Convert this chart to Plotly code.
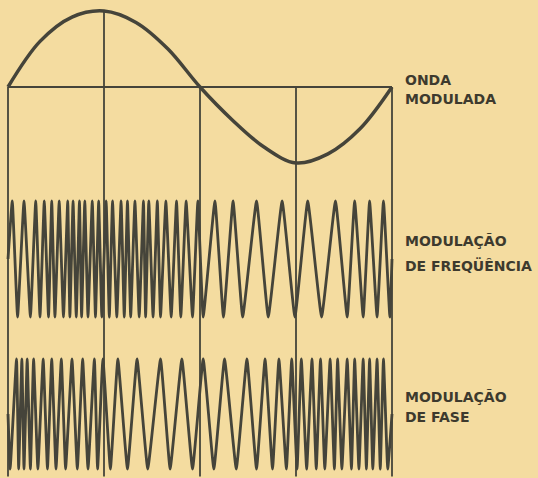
import plotly.graph_objects as go

# phase of the modulating wave, in degrees (one full period 0..360)
SINE_DEG = [0, 30, 60, 90, 120, 150, 180, 210, 240, 270, 300, 330, 360]
SINE_LEVEL = [0, 0.6, 0.92, 1.0, 0.85, 0.5, 0, -0.43, -0.79, -1.0, -0.88, -0.55, 0]

# crest / trough positions of the frequency modulated carrier (degrees)
FM_PEAKS = [4, 15, 26, 34, 41, 48, 56, 61, 67, 72, 79, 85, 92, 98, 106, 112, 119,
            127, 132, 140, 148, 158, 167, 178, 194, 211, 233, 257, 281, 307, 325, 339, 352]
FM_TROUGHS = [9, 21, 30, 38, 44, 52, 58, 64, 69, 75, 82, 88, 95, 102, 109, 115, 123,
              129, 136, 143, 153, 162, 173, 183, 202, 220, 244, 269, 294, 318, 333, 346, 358]

# crest / trough positions of the phase modulated carrier (degrees)
PM_PEAKS = [8, 13, 18, 24, 33, 41, 50, 60, 70, 81, 89, 103, 121, 143, 163, 183,
            203, 224, 241, 254, 266, 275, 285, 293, 302, 309, 318, 325, 333, 339, 346, 352]
PM_TROUGHS = [2, 10, 15, 21, 28, 37, 45, 54, 65, 75, 84, 96, 112, 131, 152, 173,
              193, 214, 233, 248, 261, 271, 280, 289, 297, 306, 313, 322, 329, 336, 342, 349, 356]

GUIDE_DEG = [0, 90, 180, 270, 360]

LABEL_ONDA = ['ONDA', 'MODULADA']
LABEL_FM = ['MODULAÇÃO', 'DE FREQÜÊNCIA']
LABEL_PM = ['MODULAÇÃO', 'DE FASE']

W, H = 538, 478
INK = '#45443a'
PAPER = '#f4dca0'


def carrier(peaks, troughs):
    pts = [(0, 0)] + [(x, 1) for x in peaks] + [(x, -1) for x in troughs] + [(360, 0)]
    pts.sort()
    return [p[0] for p in pts], [p[1] for p in pts]


def band(center_px, amp_px, half_px):
    # domain (paper) and range for a band centred on a pixel row
    dom = [1 - (center_px + half_px) / H, 1 - (center_px - half_px) / H]
    r = half_px / amp_px
    return dom, [-r, r]


deg_per_px = 360 / 384
x_range = [-8 * deg_per_px, (W - 8) * deg_per_px]

zero_px, amp_px = 87, 76
y1_range = [(zero_px - H) / amp_px, zero_px / amp_px]
fm_dom, fm_rng = band(259, 58, 69)
pm_dom, pm_rng = band(414, 55, 62)

fig = go.Figure()

fig.add_trace(go.Scatter(
    x=SINE_DEG, y=SINE_LEVEL, mode='lines',
    line=dict(color=INK, width=3.5, shape='spline', smoothing=1.0),
    xaxis='x', yaxis='y', hoverinfo='skip'))

fx, fy = carrier(FM_PEAKS, FM_TROUGHS)
fig.add_trace(go.Scatter(
    x=fx, y=fy, mode='lines', line=dict(color=INK, width=2.8, shape='spline', smoothing=0.3),
    xaxis='x', yaxis='y2', hoverinfo='skip'))

px_, py_ = carrier(PM_PEAKS, PM_TROUGHS)
fig.add_trace(go.Scatter(
    x=px_, y=py_, mode='lines', line=dict(color=INK, width=2.8, shape='spline', smoothing=0.3),
    xaxis='x', yaxis='y3', hoverinfo='skip'))

# guide lines
fig.add_shape(type='line', xref='x', yref='y', x0=GUIDE_DEG[0], x1=GUIDE_DEG[-1],
              y0=0, y1=0, line=dict(color=INK, width=1.8))
for d in GUIDE_DEG:
    top = SINE_LEVEL[SINE_DEG.index(d)] if d == 90 else 0
    fig.add_shape(type='line', xref='x', yref='y', x0=d, x1=d,
                  y0=top, y1=y1_range[0] + 0.02, line=dict(color=INK, width=1.8))

font = dict(family='DejaVu Sans', size=14, color='#3d3a2e', weight='bold')
for lines, rows in [(LABEL_ONDA, [80, 99]), (LABEL_FM, [241, 265]), (LABEL_PM, [397, 417])]:
    for txt, row in zip(lines, rows):
        fig.add_annotation(text=txt, xref='paper', yref='paper', x=403 / W, y=1 - row / H,
                           xanchor='left', yanchor='middle', showarrow=False, font=font)

fig.update_layout(
    width=W, height=H,
    margin=dict(l=0, r=0, t=0, b=0),
    paper_bgcolor=PAPER, plot_bgcolor=PAPER,
    showlegend=False,
    xaxis=dict(range=x_range, visible=False, domain=[0, 1]),
    yaxis=dict(range=y1_range, visible=False, domain=[0, 1]),
    yaxis2=dict(range=fm_rng, visible=False, domain=fm_dom),
    yaxis3=dict(range=pm_rng, visible=False, domain=pm_dom),
)

fig.write_html("out.html", config={'displayModeBar': False},
               post_script="document.body.style.margin='0';")
